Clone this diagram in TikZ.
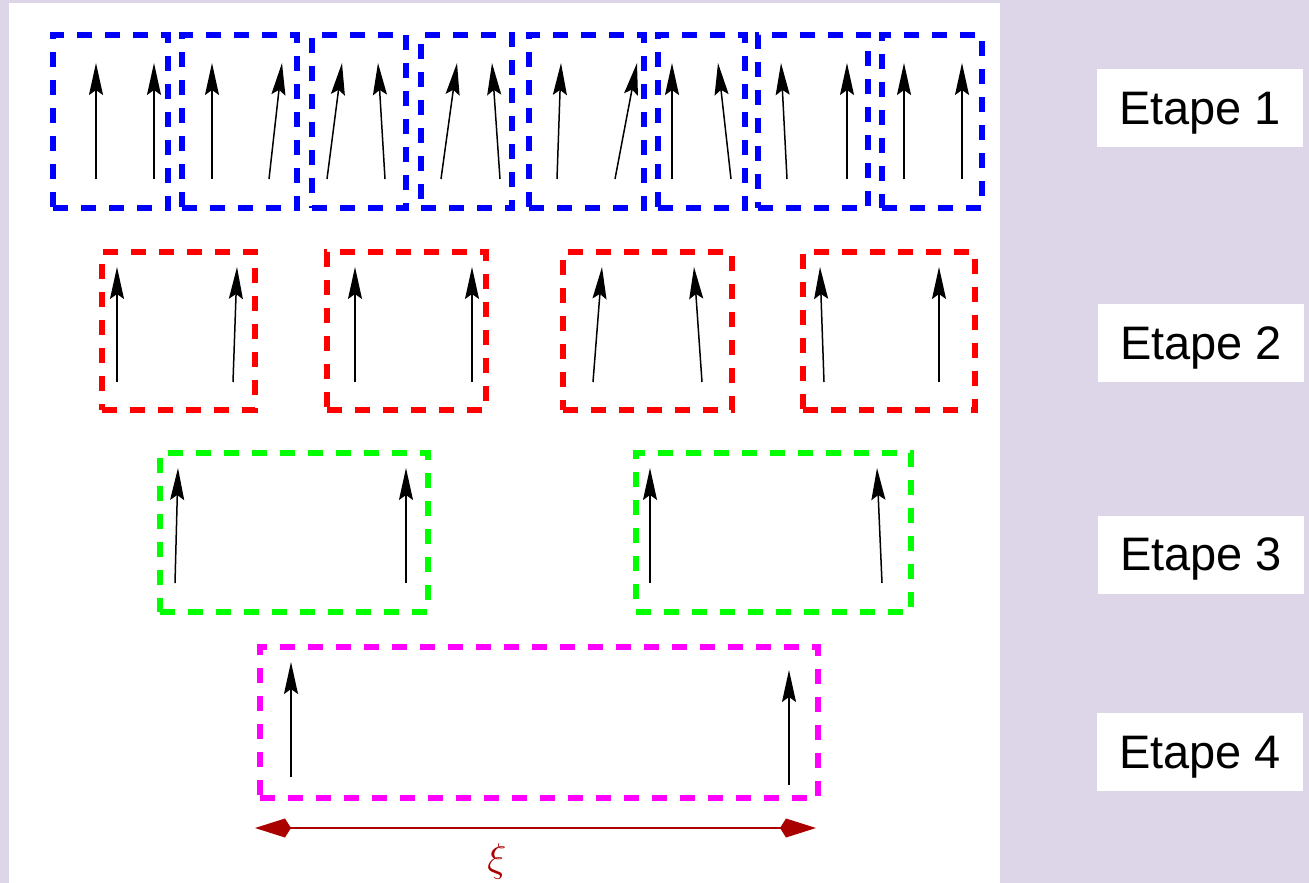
\RequirePackage{fix-cm}
\documentclass[tikz,border=0pt]{standalone}
\usepackage{fontspec}
\newfontfamily\labfont{Liberation Sans}
\usetikzlibrary{arrows.meta}
\definecolor{lav}{RGB}{221,214,232}
\definecolor{xired}{RGB}{170,0,0}
\definecolor{fblue}{RGB}{0,0,255}
\definecolor{fred}{RGB}{255,0,0}
\definecolor{fgreen}{RGB}{0,255,0}
\definecolor{fmagenta}{RGB}{255,0,255}
\tikzset{
  frame/.style={line width=5.5pt, dash pattern=on 15pt off 13pt, inner sep=0pt, outer sep=0pt},
  spin/.style={black, line width=1.5pt, -{Stealth[length=32pt,width=14pt,inset=5pt]}},
  xiarrow/.style={xired, line width=1.8pt, {Kite[length=36pt,width=19pt,inset=6pt]}-{Kite[length=36pt,width=19pt,inset=6pt]}},
  etape/.style={fill=white, minimum width=206pt, minimum height=78pt, inner sep=0pt,
    text height=42pt, text depth=10pt, font=\labfont\fontsize{47}{50}\selectfont}
}
\begin{document}
\begin{tikzpicture}[x=1pt,y=-1pt]
\useasboundingbox (0,0) rectangle (1309,883);
\fill[lav] (0,0) rectangle (1309,883);
\fill[white] (9,3) rectangle (1000,883);
% blue boxes (step 1)
\foreach \i/\cx/\w in {1/110.5/115, 2/239.5/115, 3/359/94, 4/466.5/91, 5/586.5/115, 6/701.5/87, 7/813/110, 8/932/100}
  \node[frame, draw=fblue, minimum width=\w pt, minimum height=173pt] (b\i) at (\cx,121.5) {};
% red boxes (step 2)
\foreach \i/\cx/\w in {1/178.5/153, 2/406.5/159, 3/647.5/169, 4/889/172}
  \node[frame, draw=fred, minimum width=\w pt, minimum height=158pt] (r\i) at (\cx,331) {};
% green boxes (step 3)
\foreach \i/\cx/\w in {1/294/268, 2/773.5/275}
  \node[frame, draw=fgreen, minimum width=\w pt, minimum height=159pt] (g\i) at (\cx,532.5) {};
% magenta box (step 4)
\node[frame, draw=fmagenta, minimum width=558pt, minimum height=151pt] (m1) at (539,722.5) {};
% spins
\foreach \i/\xa/\ya/\xb/\yb in {
  1/96/179/96/63, 2/154/179/154/63, 3/212/179/212/63, 4/269/179/282/63,
  5/327/179/342/63, 6/385/179/378/63, 7/441/179/457/63, 8/500/179/492/63,
  9/557/179/561/63, 10/615/179/637/63, 11/672/179/672/63, 12/731/179/718/63,
  13/787/179/781/63, 14/847/179/847/63, 15/904/179/904/63, 16/962/179/962/63,
  17/117/382/117/267, 18/233/382/237/267, 19/355/382/355/267, 20/472/382/472/267,
  21/593/382/602/267, 22/702/382/694/267, 23/824/382/820/267, 24/939/382/939/267,
  25/175/583/178/468, 26/406/583/406/468, 27/650/583/650/468, 28/882/583/877/468,
  29/291/777/291/662, 30/789/785/789/670}
{
  \coordinate (s\i t) at (\xa,\ya);
  \coordinate (s\i h) at (\xb,\yb);
  \draw[spin] (s\i t) -- (s\i h);
}
% correlation length
\coordinate (xiL) at (255,828);
\coordinate (xiR) at (816,828);
\draw[xiarrow] (xiL) -- (xiR);
\node[text=xired, inner sep=0pt, font=\fontsize{40}{44}\selectfont] (xi) at (497,861) {$\xi$};
% labels
\node[etape] (e1) at (1200,108) {Etape 1};
\node[etape] (e2) at (1201,343) {Etape 2};
\node[etape] (e3) at (1201,554.5) {Etape 3};
\node[etape] (e4) at (1200,752) {Etape 4};
\end{tikzpicture}
\end{document}
